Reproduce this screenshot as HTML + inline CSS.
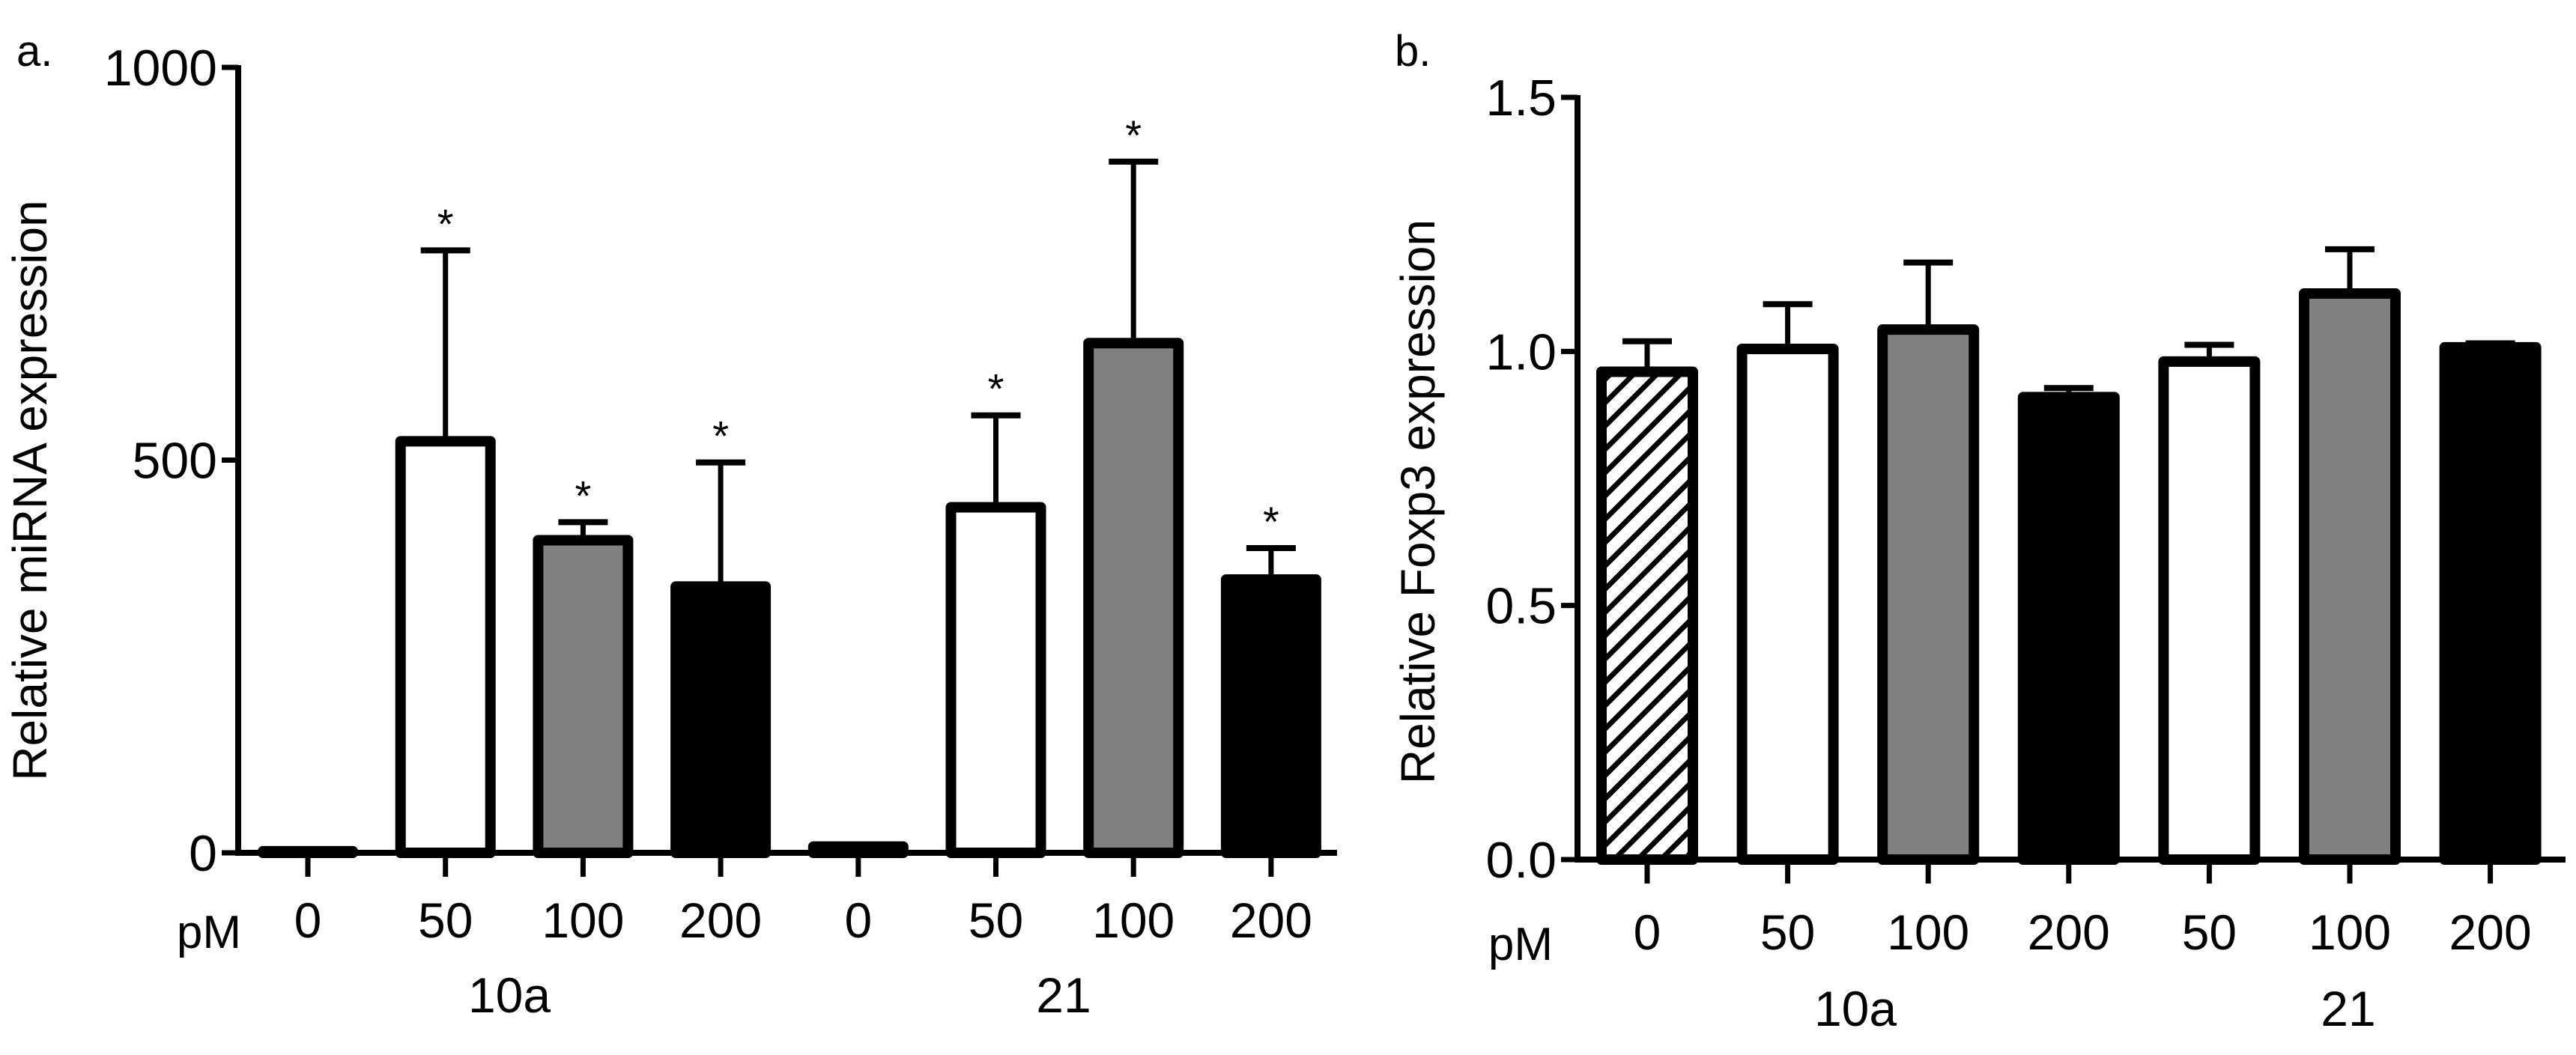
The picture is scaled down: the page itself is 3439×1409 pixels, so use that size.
<!DOCTYPE html>
<html><head><meta charset="utf-8"><style>
html,body{margin:0;padding:0;background:#fff;}
svg{display:block;font-family:"Liberation Sans",Arial,sans-serif;}
</style></head><body>
<svg id="fig" width="3439" height="1409" viewBox="0 0 3439 1409" xmlns="http://www.w3.org/2000/svg">
<defs>
<pattern id="hatch" patternUnits="userSpaceOnUse" width="22" height="22" patternTransform="rotate(45)">
<rect width="22" height="22" fill="#fff"/>
<rect x="0" y="0" width="7" height="22" fill="#000"/>
</pattern>
</defs>
<g id="panelA"></g>
<g id="panelB"></g>
</svg>
<script>
// Panel a data
const aLabels = ["0","50","100","200","0","50","100","200"];
const aValues = [2, 524, 398, 339, 8, 440, 649, 348];
const aErrors = [0, 243, 23, 158, 0, 117, 231, 40];
const aStars = [false, true, true, true, false, true, true, true];
const aFills = ["#fff","#fff","#808080","#000","#fff","#fff","#808080","#000"];
const aTicks = [0, 500, 1000];
const aGroups = ["10a","21"];
// Panel b data
const bLabels = ["0","50","100","200","50","100","200"];
const bValues = [0.96, 1.005, 1.043, 0.91, 0.98, 1.114, 1.008];
const bErrors = [0.06, 0.088, 0.132, 0.018, 0.033, 0.087, 0.008];
const bFills = ["url(#hatch)","#fff","#808080","#000","#fff","#808080","#000"];
const bTicks = ["0.0","0.5","1.0","1.5"];
const bGroups = ["10a","21"];

const NS="http://www.w3.org/2000/svg";
function mk(parent, tag, attrs, text){
  const e=document.createElementNS(NS,tag);
  for(const k in attrs) e.setAttribute(k, attrs[k]);
  if(text!==undefined) e.textContent=text;
  parent.appendChild(e); return e;
}

function drawPanel(g, cfg){
  const yS = v => cfg.y0 - (v - cfg.vmin)/(cfg.vmax-cfg.vmin)*(cfg.y0-cfg.y1);
  const xS = i => cfg.xFirst + i*cfg.xStep;
  let t=mk(g,'text',{x:cfg.letterX,y:88,'font-size':58},cfg.letter);
  
  
  t=mk(g,'text',{x:0,y:0,'font-size':64,'text-anchor':'middle',transform:`translate(${cfg.titleX},${cfg.titleY}) rotate(-90)`},cfg.title);
  
  
  cfg.values.forEach((v,i)=>{
    const cx=xS(i), top=yS(v), base=yS(cfg.vmin);
    const bw=cfg.barW;
    if(cfg.errors[i]>0){
      const ey=yS(v+cfg.errors[i]);
      let l=mk(g,'line',{x1:cx,x2:cx,y1:top,y2:ey,stroke:'#000','stroke-width':7});
      
      
      l=mk(g,'line',{x1:cx-33,x2:cx+33,y1:ey,y2:ey,stroke:'#000','stroke-width':8});
      
      
      if(cfg.stars && cfg.stars[i]){
        const s=mk(g,'text',{x:cx,y:ey-16,'font-size':56,'text-anchor':'middle'},'*');
        
        
      }
    }
    const h=Math.max(base-top,2);
    const r=mk(g,'rect',{x:cx-bw/2,y:top,width:bw,height:h,fill:cfg.fills[i],stroke:'#000','stroke-width':14,'stroke-linejoin':'round'});
    
    
  });
  let ax=mk(g,'line',{x1:cfg.axX,x2:cfg.axX,y1:yS(cfg.vmax)-3,y2:cfg.y0+4,stroke:'#000','stroke-width':8});
  
  
  ax=mk(g,'line',{x1:cfg.axX-4,x2:cfg.axEnd,y1:cfg.y0,y2:cfg.y0,stroke:'#000','stroke-width':8});
  
  
  cfg.ticks.forEach(tv=>{
    const y=yS(parseFloat(tv));
    let l=mk(g,'line',{x1:cfg.axX-22,x2:cfg.axX,y1:y,y2:y,stroke:'#000','stroke-width':7});
    
    
    let tx=mk(g,'text',{x:cfg.axX-28,y:y+24,'font-size':68,'text-anchor':'end'},String(tv));
    
    
  });
  cfg.labels.forEach((lb,i)=>{
    const cx=xS(i);
    let l=mk(g,'line',{x1:cx,x2:cx,y1:cfg.y0,y2:cfg.y0+32,stroke:'#000','stroke-width':7});
    
    
    let tx=mk(g,'text',{x:cx,y:cfg.labY,'font-size':66,'text-anchor':'middle'},lb);
    
    
  });
  let pm=mk(g,'text',{x:cfg.pmX,y:cfg.labY+14,'font-size':62,'text-anchor':'end'},'pM');
  
  
  cfg.groups.forEach((gl,i)=>{
    let tx=mk(g,'text',{x:cfg.groupX[i],y:cfg.groupY,'font-size':66,'text-anchor':'middle'},gl);
    
    
  });
}

drawPanel(document.getElementById('panelA'),{
  letter:'a.',letterX:22,title:'Relative miRNA expression',titleX:62,titleY:655,
  values:aValues,errors:aErrors,stars:aStars,fills:aFills,labels:aLabels,groups:aGroups,
  ticks:aTicks,vmin:0,vmax:1000,y0:1139,y1:90,
  xFirst:411,xStep:183.7,barW:120,axX:318,axEnd:1785,
  labY:1252,pmX:322,groupX:[680,1420],groupY:1352
});
drawPanel(document.getElementById('panelB'),{
  letter:'b.',letterX:1862,title:'Relative Foxp3 expression',titleX:1915,titleY:670,
  values:bValues,errors:bErrors,stars:null,fills:bFills,labels:bLabels,groups:bGroups,
  ticks:bTicks,vmin:0,vmax:1.5,y0:1148,y1:130,
  xFirst:2199,xStep:187.6,barW:122,axX:2106,axEnd:3425,
  labY:1268,pmX:2073,groupX:[2477,3135],groupY:1370
});
</script>
</body></html>
